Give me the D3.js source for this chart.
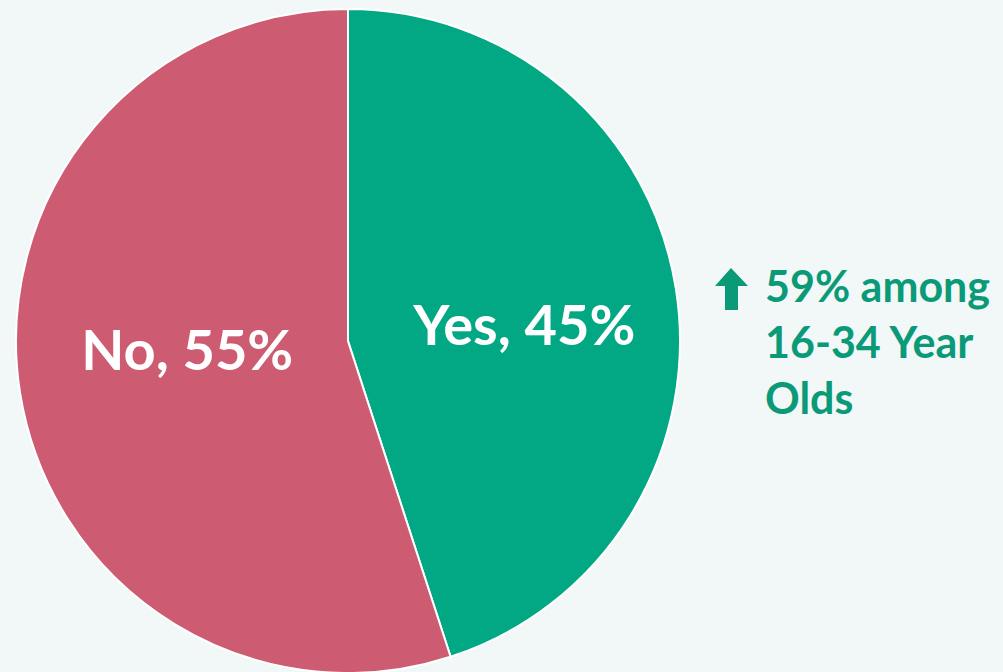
<!DOCTYPE html>
<html>
<head>
<meta charset="utf-8">
<script src="https://cdn.jsdelivr.net/npm/d3@7"></script>
<style>
  body { margin: 0; background: #f2f7f7; }
  svg { display: block; }
</style>
</head>
<body>
<div id="container"></div>
<script>
var labels = ['Yes', 'No'];
var values = [45, 55];
var colors = ['#02a884', '#cd5c72'];
var noteLines = ['59% among', '16-34 Year', 'Olds'];

var width = 1003, height = 672;
var cx = 348, cy = 341, radius = 332;

var svg = d3.select('#container').append('svg')
    .attr('width', width)
    .attr('height', height);

var g = svg.append('g').attr('transform', 'translate(' + cx + ',' + cy + ')');

var pie = d3.pie().sort(null).value(function (d) { return d; });
var arcs = pie(values);
var arc = d3.arc().innerRadius(0).outerRadius(radius);

g.selectAll('path')
    .data(arcs)
    .enter().append('path')
    .attr('d', arc)
    .attr('fill', function (d, i) { return colors[i]; })
    .attr('stroke', '#ffffff')
    .attr('stroke-width', 2);

// label spots inside slices (angle in degrees from top, distance from centre)
var labelPos = [{ a: 84.8, r: 177 }, { a: 266.8, r: 161 }];

g.selectAll('text.slice')
    .data(arcs)
    .enter().append('text')
    .attr('class', 'slice')
    .attr('x', function (d, i) { return labelPos[i].r * Math.sin(labelPos[i].a * Math.PI / 180); })
    .attr('y', function (d, i) { return -labelPos[i].r * Math.cos(labelPos[i].a * Math.PI / 180); })
    .attr('dy', '0.36em')
    .attr('text-anchor', 'middle')
    .style('font-family', 'Lato, "Open Sans", sans-serif')
    .style('font-weight', 'bold')
    .style('font-size', '56px')
    .style('fill', '#ffffff')
    .text(function (d, i) { return labels[i] + ', ' + values[i] + '%'; });

// note with up arrow
var note = svg.append('g').attr('transform', 'translate(715,268)');

note.append('path')
    .attr('d', 'M16,0 L33,18 L23,18 L23,42 L10,42 L10,18 L0,18 Z')
    .attr('fill', '#0a9a78');

note.selectAll('text')
    .data(noteLines)
    .enter().append('text')
    .attr('x', 50)
    .attr('y', function (d, i) { return 34 + i * 56; })
    .style('font-family', 'Lato, "Open Sans", sans-serif')
    .style('font-weight', 'bold')
    .style('font-size', '43px')
    .style('fill', '#0a9a78')
    .text(function (d) { return d; });
</script>
</body>
</html>
